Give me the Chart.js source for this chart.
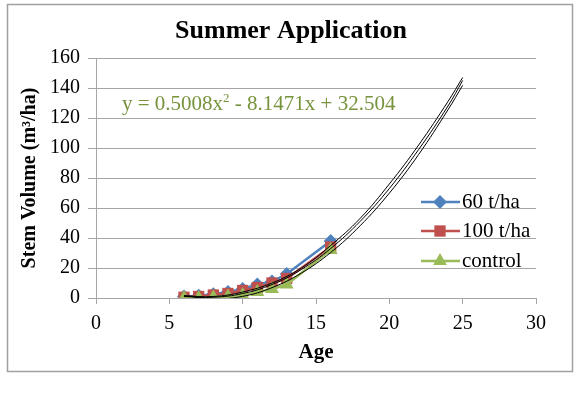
<!DOCTYPE html>
<html>
<head>
<meta charset="utf-8">
<script src="https://cdn.jsdelivr.net/npm/chart.js@4"></script>
<style>
  html, body { margin: 0; padding: 0; background: #fff; }
  #wrap { width: 580px; height: 395px; }
</style>
</head>
<body>
<div id="wrap"><canvas id="chart" width="580" height="395"></canvas></div>
<script>
// ages measured
var ages = [6, 7, 8, 9, 10, 11, 12, 13, 16];
var vol60 = [1, 1.5, 2.5, 4, 6, 9, 11, 16, 38];
var vol100 = [0.5, 1, 2, 3, 5, 7, 10, 13, 34];
var volControl = [0, 0, 0.5, 1, 2, 4, 6, 9, 32];

// trendlines
var trendAges = [6, 8, 10, 12, 14, 16, 18, 20, 22, 24, 25];
var trend60 = [1.5, 1, 4, 10, 20, 35, 53, 76, 102, 131, 147];
var trend100 = [1, 0.5, 3, 9, 19, 33, 51, 73, 99, 128, 145];
var trendControl = [1.6, -0.6, 1.1, 6.9, 16.6, 30.3, 48.1, 69.9, 95.7, 125.5, 141.8];

var xTicks = [0, 5, 10, 15, 20, 25, 30];
var yTicks = [0, 20, 40, 60, 80, 100, 120, 140, 160];
var chartTitle = 'Summer Application';
var equationParts = ['y = 0.5008x', '2', ' - 8.1471x + 32.504'];

var serif = "'Liberation Serif', 'Times New Roman', serif";
var gridGrey = '#a6a6a6';

function pts(xs, ys) {
    return xs.map(function (x, i) { return {x: x, y: ys[i]}; });
}

let seriesList = [
    {label: '60 t/ha', data: pts(ages, vol60), color: '#4f81bd', style: 'rectRot', r: 7, order: 3},
    {label: '100 t/ha', data: pts(ages, vol100), color: '#c0504d', style: 'rect', r: 8, order: 2},
    {label: 'control', data: pts(ages, volControl), color: '#9bbb59', style: 'triangle', r: 8, order: 1}
];

let datasets = seriesList.map(function (s) {
    return {
        label: s.label,
        data: s.data,
        showLine: true,
        borderColor: s.color,
        backgroundColor: s.color,
        borderWidth: 2.5,
        pointStyle: s.style,
        pointRadius: s.r,
        pointBorderWidth: 0,
        order: s.order
    };
});

[trend60, trend100, trendControl].forEach(function (t) {
    datasets.push({
        label: 'trend',
        data: pts(trendAges, t),
        showLine: true,
        borderColor: '#000',
        borderWidth: 1,
        pointRadius: 0,
        tension: 0.4,
        order: 0
    });
});

let extrasPlugin = {
    id: 'extras',
    afterDraw: function (chart) {
        let ctx = chart.ctx;
        ctx.save();
        // outer frame
        ctx.strokeStyle = '#a0a0a0';
        ctx.lineWidth = 1.5;
        ctx.strokeRect(7.5, 4.5, 565, 367);

        // title
        ctx.fillStyle = '#000';
        ctx.font = 'bold 26px ' + serif;
        ctx.textAlign = 'center';
        ctx.textBaseline = 'middle';
        ctx.fillText(chartTitle, 291, 31);

        // equation label with superscript
        ctx.fillStyle = '#77933c';
        ctx.textBaseline = 'alphabetic';
        ctx.textAlign = 'left';
        let ex = 122, ey = 110;
        ctx.font = '21px ' + serif;
        ctx.fillText(equationParts[0], ex, ey);
        ex += ctx.measureText(equationParts[0]).width;
        ctx.font = '13px ' + serif;
        ctx.fillText(equationParts[1], ex, ey - 8);
        ex += ctx.measureText(equationParts[1]).width;
        ctx.font = '21px ' + serif;
        ctx.fillText(equationParts[2], ex, ey);

        // legend
        ctx.textBaseline = 'middle';
        let ly = [202, 231, 261];
        seriesList.forEach(function (s, i) {
            let y = ly[i];
            ctx.strokeStyle = s.color;
            ctx.lineWidth = 2.5;
            ctx.beginPath();
            ctx.moveTo(421, y);
            ctx.lineTo(460, y);
            ctx.stroke();
            ctx.fillStyle = s.color;
            Chart.helpers.drawPoint(ctx, {
                pointStyle: s.style, radius: s.r, borderWidth: 0, rotation: 0
            }, 440, y);
            ctx.fillStyle = '#000';
            ctx.font = '21px ' + serif;
            ctx.fillText(s.label, 462, y);
        });
        ctx.restore();
    }
};

let chart = new Chart(document.getElementById('chart'), {
    type: 'scatter',
    data: {datasets: datasets},
    options: {
        responsive: false,
        devicePixelRatio: 1,
        animation: false,
        layout: {padding: {left: 14, right: 44, top: 58, bottom: 27}},
        plugins: {
            legend: {display: false},
            tooltip: {enabled: false},
            title: {display: false}
        },
        scales: {
            x: {
                type: 'linear',
                min: 0,
                max: 30,
                afterBuildTicks: function (scale) {
                    scale.ticks = xTicks.map(function (v) { return {value: v}; });
                },
                afterFit: function (scale) { scale.height = 70; },
                grid: {
                    drawOnChartArea: false,
                    drawTicks: true,
                    tickLength: 6,
                    color: gridGrey
                },
                border: {color: gridGrey, width: 1},
                ticks: {color: '#000', padding: 8, font: {family: serif, size: 20}, maxRotation: 0},
                title: {
                    display: true,
                    text: 'Age',
                    color: '#000',
                    font: {family: serif, size: 21, weight: 'bold'},
                    padding: {top: 0, bottom: 3}
                }
            },
            y: {
                type: 'linear',
                min: 0,
                max: 160,
                afterBuildTicks: function (scale) {
                    scale.ticks = yTicks.map(function (v) { return {value: v}; });
                },
                afterFit: function (scale) { scale.width = 82; },
                grid: {
                    color: gridGrey,
                    drawTicks: true,
                    tickLength: 8,
                    lineWidth: 1
                },
                border: {color: gridGrey, width: 1},
                ticks: {color: '#000', padding: 8, font: {family: serif, size: 20}},
                title: {
                    display: true,
                    text: 'Stem Volume (m\u00B3/ha)',
                    color: '#000',
                    font: {family: serif, size: 20, weight: 'bold'},
                    padding: {top: 4, bottom: 0}
                }
            }
        }
    },
    plugins: [extrasPlugin]
});
</script>
</body>
</html>
